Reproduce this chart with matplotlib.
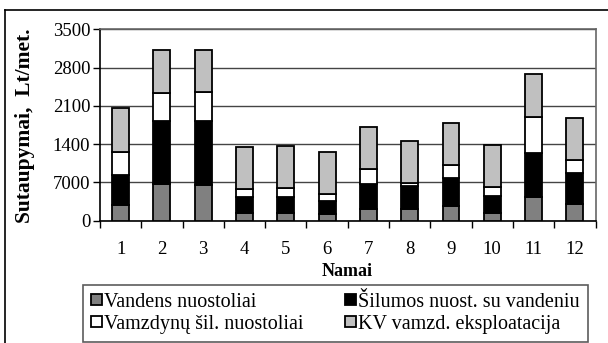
import numpy as np
import matplotlib.pyplot as plt
from matplotlib.lines import Line2D

plt.rcParams['font.family'] = ['Liberation Serif', 'DejaVu Serif']

# Data
namai = ['1', '2', '3', '4', '5', '6', '7', '8', '9', '10', '11', '12']
vandens = [279, 669, 656, 133, 133, 122, 219, 213, 268, 140, 438, 297]
silumos = [547, 1154, 1167, 292, 305, 237, 450, 419, 503, 310, 789, 578]
vamzdynu = [437, 516, 534, 153, 151, 133, 279, 55, 237, 157, 674, 224]
kv = [791, 778, 773, 771, 773, 760, 771, 777, 779, 778, 779, 779]
y_ticks = [0, 700, 1400, 2100, 2800, 3500]
y_tick_labels = ['0', '7000', '1400', '2100', '2800', '3500']

series = [
    ('Vandens nuostoliai', vandens, '#808080'),
    ('Šilumos nuost. su vandeniu', silumos, '#000000'),
    ('Vamzdynų šil. nuostoliai', vamzdynu, '#ffffff'),
    ('KV vamzd. eksploatacija', kv, '#c0c0c0'),
]

W, H = 608, 343
fig = plt.figure(figsize=(W / 100, H / 100), dpi=100)
ax = fig.add_axes([100 / W, (H - 220.5) / H, 495.5 / W, 191.2 / H])

x = np.arange(len(namai))
bottom = np.zeros(len(namai))
handles = {}
for name, vals, col in series:
    b = ax.bar(x, vals, width=0.41, bottom=bottom, color=col,
               edgecolor='black', linewidth=1.3, label=name, zorder=3)
    handles[name] = b
    bottom += np.array(vals)

ax.set_xlim(-0.5, len(namai) - 0.5)
ax.set_ylim(0, 3500)
ax.set_yticks(y_ticks)
ax.set_yticklabels(y_tick_labels, fontsize=13.5)
ax.yaxis.grid(True, color='#444444', linewidth=1.0, zorder=0)

ax.set_xticks(x)
ax.set_xticklabels(namai, fontsize=13.5)
ax.set_xticks(np.arange(-0.5, len(namai)), minor=True)
ax.tick_params(axis='x', which='major', length=0, pad=15)
ax.tick_params(axis='x', which='minor', length=5, width=1, direction='out')
ax.tick_params(axis='y', length=5, width=1, direction='out', pad=2)

for s in ['top', 'right']:
    ax.spines[s].set_color('#666666')
    ax.spines[s].set_linewidth(1.2)
for s in ['left', 'bottom']:
    ax.spines[s].set_color('black')
    ax.spines[s].set_linewidth(1.2)

fig.text(25 / W, 1 - 126 / H, 'Sutaupymai,  Lt/met.', rotation=90,
         fontsize=15.5, fontweight='bold', ha='center', va='center')
fig.text(347 / W, 1 - 272 / H, 'Namai', fontsize=13,
         fontweight='bold', ha='center', va='center')

order = ['Vandens nuostoliai', 'Vamzdynų šil. nuostoliai',
         'Šilumos nuost. su vandeniu', 'KV vamzd. eksploatacija']
leg = fig.legend([handles[n] for n in order], order, ncol=2,
                 loc='upper left', mode='expand',
                 bbox_to_anchor=(83 / W, 1 - 288 / H, 505 / W, 0.01),
                 fontsize=14.5, frameon=True, fancybox=False,
                 edgecolor='#333333', handlelength=0.55, handleheight=0.5,
                 handletextpad=0.1, labelspacing=0.15,
                 borderpad=0.4, borderaxespad=0)
leg.get_frame().set_linewidth(1.2)

# outer chart border (right and bottom edges fall outside the picture)
fig.add_artist(Line2D([5 / W, 1], [1 - 10 / H, 1 - 10 / H],
                      transform=fig.transFigure, color='black', lw=1.2))
fig.add_artist(Line2D([5 / W, 5 / W], [0, 1 - 10 / H],
                      transform=fig.transFigure, color='black', lw=1.2))

fig.savefig('out.png', dpi=100)
